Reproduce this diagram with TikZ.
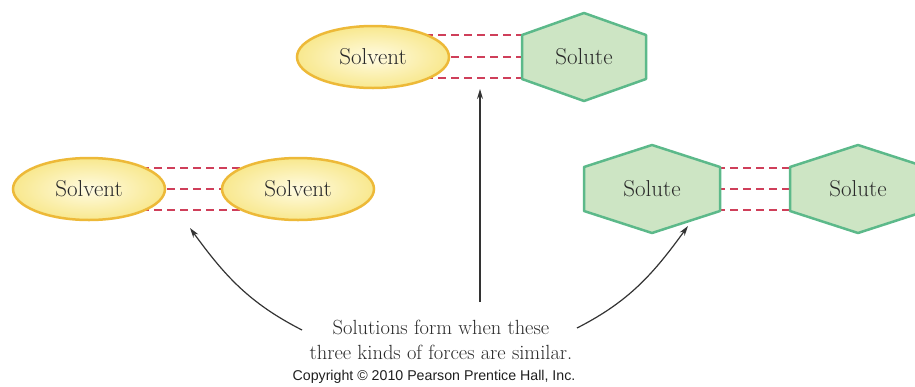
\documentclass[tikz,border=0pt]{standalone}
\usepackage{fontspec}
\newfontfamily\copyfont{Liberation Sans}
\usetikzlibrary{shapes.geometric,arrows.meta,backgrounds}
\definecolor{ellline}{HTML}{EDB938}
\definecolor{ellin}{HTML}{FFFBE2}
\definecolor{ellout}{HTML}{F8E88E}
\definecolor{hexline}{HTML}{5CB98A}
\definecolor{hexfill}{HTML}{CDE5C4}
\definecolor{dashred}{HTML}{CF3F5A}
\definecolor{txt}{HTML}{2A2A2A}
\definecolor{arr}{HTML}{333333}
\tikzset{
  solv/.style={ellipse, draw=ellline, line width=2.5pt, inner color=ellin, outer color=ellout,
    minimum width=152pt, minimum height=62pt, inner sep=0pt, text=txt,
    font=\fontsize{23}{26}\selectfont},
  lab/.style={text=txt, font=\fontsize{23}{26}\selectfont, inner sep=0pt},
  hexshape/.style={draw=hexline, line width=2.5pt, fill=hexfill, line join=round},
  bond/.style={draw=dashred, line width=2pt, dash pattern=on 8pt off 5pt},
  pointer/.style={draw=arr, line width=1.2pt, -{Stealth[length=10pt,width=6pt]}},
}
\newcommand{\hexat}[5]{% name, x, y, half width, half vertical
  \draw[hexshape] (#2-#4,#3-22) -- (#2,#3-#5) -- (#2+#4,#3-22) -- (#2+#4,#3+22) -- (#2,#3+#5) -- (#2-#4,#3+22) -- cycle;
  \node[lab] (#1) at (#2,#3) {Solute};
}
\begin{document}
\begin{tikzpicture}[x=1pt,y=-1pt]
\useasboundingbox (0,0) rectangle (915,386);
% top pair
\node[solv] (tsv) at (373,57) {Solvent};
\begin{scope}[on background layer]
\coordinate (thx) at (584,57);
\draw[bond] ([yshift=22pt]tsv.center) -- ([yshift=22pt]thx);
\draw[bond] (tsv.center) -- (thx);
\draw[bond] ([yshift=-21pt]tsv.center) -- ([yshift=-21pt]thx);
\end{scope}
\hexat{tsu}{584}{57}{62}{44}
% left pair
\node[solv] (lsv1) at (89,189) {Solvent};
\node[solv] (lsv2) at (298,189) {Solvent};
\begin{scope}[on background layer]
\draw[bond] ([yshift=21pt]lsv1.center) -- ([yshift=21pt]lsv2.center);
\draw[bond] (lsv1.center) -- (lsv2.center);
\draw[bond] ([yshift=-21pt]lsv1.center) -- ([yshift=-21pt]lsv2.center);
\end{scope}
% right pair
\begin{scope}[on background layer]
\coordinate (rh1) at (652,189);
\coordinate (rh2) at (858,189);
\draw[bond] ([yshift=21pt]rh1) -- ([yshift=21pt]rh2);
\draw[bond] (rh1) -- (rh2);
\draw[bond] ([yshift=-21pt]rh1) -- ([yshift=-21pt]rh2);
\end{scope}
\hexat{rsu1}{652}{189}{68}{44}
\hexat{rsu2}{858}{189}{68}{44}
% caption
\node[lab, align=center, font=\fontsize{20.5}{25}\selectfont] (cap) at (441,340)
  {Solutions form when these\\three kinds of forces are similar.};
\node[inner sep=0pt, text=black!88, font=\copyfont\fontsize{14.2}{16}\selectfont] (copy) at (434,377)
  {Copyright \textcopyright\ 2010 Pearson Prentice Hall, Inc.};
% arrows
\coordinate (vtip) at (480,89);
\coordinate (vstart) at (480,302);
\coordinate (ltip) at (190,228);
\coordinate (lstart) at (302,330);
\coordinate (rtip) at (688,226);
\coordinate (rstart) at (577,328);
\draw[pointer] (vstart) -- (vtip);
\draw[pointer] (lstart) to[out=153,in=-54] (ltip);
\draw[pointer] (rstart) to[out=27,in=-126] (rtip);
\end{tikzpicture}
\end{document}
